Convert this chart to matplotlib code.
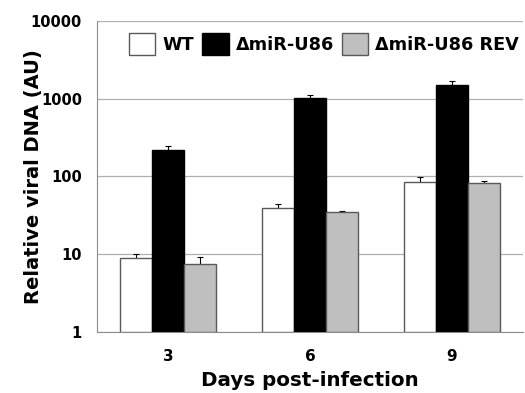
import numpy as np
from matplotlib import pyplot as plt
from matplotlib.patches import Patch

days = ["3", "6", "9"]
series = ["WT", "\u0394miR-U86", "\u0394miR-U86 REV"]
wt = [9.0, 39, 86]
wt_err = [1.0, 5, 12]
mut = [222, 1030, 1510]
mut_err = [23, 85, 155]
rev = [7.6, 35, 83]
rev_err = [1.5, 1.3, 5]

values = [wt, mut, rev]
errors = [wt_err, mut_err, rev_err]
fills = ["white", "black", "#bfbfbf"]
edges = ["#595959", "black", "#595959"]

fig = plt.figure(figsize=(5.25, 3.93), dpi=100)
ax = fig.add_axes([0.185, 0.155, 0.811, 0.792])

x = np.arange(len(days))
w = 0.225
for k in range(3):
  pos = x + (k - 1) * w
  vals = np.array(values[k], dtype=float)
  err = np.array(errors[k], dtype=float)
  ax.bar(pos, vals - 1, w, bottom=1, color=fills[k], edgecolor=edges[k], linewidth=1.0, zorder=3)
  # one-sided error bars, lower half hidden behind the bar
  ax.errorbar(pos, vals, yerr=[err, err], fmt="none",
              ecolor="black", elinewidth=0.8, capsize=2.5, capthick=0.8, zorder=2)

ax.set_yscale("log")
ax.set_ylim(1, 10000)
ax.set_xlim(-0.5, 2.5)
ax.set_yticks([1, 10, 100, 1000, 10000])
ax.set_yticklabels(["1", "10", "100", "1000", "10000"])
ax.minorticks_off()
ax.set_xticks(x)
ax.set_xticklabels(days)
ax.tick_params(axis="y", length=0, pad=11, labelsize=10.5)
ax.tick_params(axis="x", length=0, pad=12, labelsize=11)
for lab in ax.get_xticklabels() + ax.get_yticklabels():
  lab.set_fontweight("bold")

ax.grid(axis="y", color="#b0b0b0", linewidth=0.9, zorder=0)
for s in ["top", "right"]:
  ax.spines[s].set_visible(False)
ax.spines["left"].set_color("#8c8c8c")
ax.spines["bottom"].set_color("#8c8c8c")

ax.set_xlabel("Days post-infection", fontsize=14.3, fontweight="bold", labelpad=5)
ax.set_ylabel("Relative viral DNA (AU)", fontsize=14, fontweight="bold")
ax.yaxis.set_label_coords(-0.128, 0.5)

handles = [Patch(facecolor=fills[k], edgecolor=edges[k], linewidth=1.0) for k in range(3)]
ax.legend(handles, series, ncol=3, loc="upper right", bbox_to_anchor=(1.012, 0.99),
          frameon=False, prop={"weight": "bold", "size": 12.7},
          handlelength=1.5, handleheight=1.6, handletextpad=0.4, columnspacing=0.45,
          borderaxespad=0.1)

fig.savefig("out.png", dpi=100)
